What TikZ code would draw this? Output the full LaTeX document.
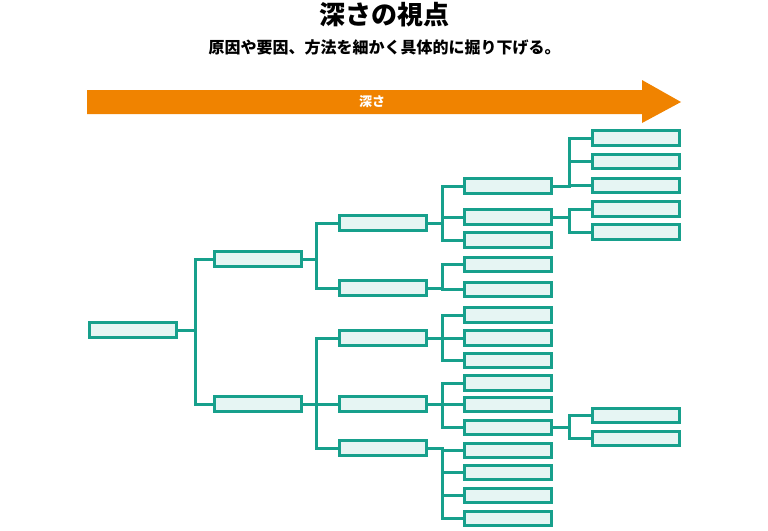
\documentclass[tikz,border=0pt]{standalone}
\usepackage{fontspec}
\setmainfont{Noto Sans CJK JP}
\definecolor{teal1}{HTML}{17A08C}
\definecolor{tealfill}{HTML}{E6F5F3}
\definecolor{orng}{HTML}{F08300}
\tikzset{
  box/.style={draw=teal1, fill=tealfill, line width=3pt, minimum width=87pt, minimum height=14.5pt, inner sep=0pt, outer sep=0pt},
  conn/.style={draw=teal1, line width=3pt},
}
\begin{document}
\begin{tikzpicture}[x=1pt,y=-1pt]
\useasboundingbox (0,0) rectangle (768,530);
% title
\node[font=\bfseries\fontsize{26}{30}\selectfont] (title) at (384,15) {深さの視点};
\node[font=\bfseries\fontsize{16}{20}\selectfont] (sub) at (384.5,47.5) {原因や要因、方法を細かく具体的に掘り下げる。};
% arrow
\fill[orng] (87,90) -- (642,90) -- (642,80) -- (681,102) -- (642,123) -- (642,114) -- (87,114) -- cycle;
\node[font=\bfseries\fontsize{13}{15}\selectfont, text=white] (alab) at (372,102) {深さ};
% level 0
\node[box] (r) at (133,330) {};
% level 1
\node[box] (a1) at (258,259) {};
\node[box] (a2) at (258,404) {};
% level 2
\node[box] (b1) at (383,223) {};
\node[box] (b2) at (383,288) {};
\node[box] (b3) at (383,338) {};
\node[box] (b4) at (383,404) {};
\node[box] (b5) at (383,448) {};
% level 3
\node[box] (c1) at (507.5,186) {};
\node[box] (c2) at (507.5,217) {};
\node[box] (c3) at (507.5,240) {};
\node[box] (c4) at (507.5,264.5) {};
\node[box] (c5) at (507.5,289.5) {};
\node[box] (c6) at (507.5,315) {};
\node[box] (c7) at (507.5,338) {};
\node[box] (c8) at (507.5,360.5) {};
\node[box] (c9) at (507.5,383) {};
\node[box] (c10) at (507.5,404.5) {};
\node[box] (c11) at (507.5,427.5) {};
\node[box] (c12) at (507.5,450.5) {};
\node[box] (c13) at (507.5,472.5) {};
\node[box] (c14) at (507.5,495.5) {};
\node[box] (c15) at (507.5,518.5) {};
% level 4
\node[box] (d1) at (636,138) {};
\node[box] (d2) at (636,161.5) {};
\node[box] (d3) at (636,185.5) {};
\node[box] (d4) at (636,209) {};
\node[box] (d5) at (636,232) {};
\node[box] (d6) at (636,415.5) {};
\node[box] (d7) at (636,438.5) {};
% connectors
\foreach \c in {a1,a2} \draw[conn] (r.east) -- ++(19,0) |- (\c.west);
\foreach \c in {b1,b2} \draw[conn] (a1.east) -- ++(15,0) |- (\c.west);
\foreach \c in {b3,b4,b5} \draw[conn] (a2.east) -- ++(15,0) |- (\c.west);
\foreach \c in {c1,c2,c3} \draw[conn] (b1.east) -- ++(16,0) |- (\c.west);
\foreach \c in {c4,c5} \draw[conn] (b2.east) -- ++(16,0) |- (\c.west);
\foreach \c in {c6,c7,c8} \draw[conn] (b3.east) -- ++(16,0) |- (\c.west);
\foreach \c in {c9,c10,c11} \draw[conn] (b4.east) -- ++(16,0) |- (\c.west);
\foreach \c in {c12,c13,c14,c15} \draw[conn] (b5.east) -- ++(16,0) |- (\c.west);
\foreach \c in {d1,d2,d3} \draw[conn] (c1.east) -- ++(18,0) |- (\c.west);
\foreach \c in {d4,d5} \draw[conn] (c2.east) -- ++(18,0) |- (\c.west);
\foreach \c in {d6,d7} \draw[conn] (c11.east) -- ++(18,0) |- (\c.west);
\end{tikzpicture}
\end{document}
